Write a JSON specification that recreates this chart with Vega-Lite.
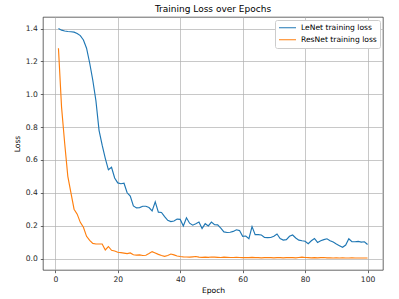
{
  "$schema": "https://vega.github.io/schema/vega-lite/v6.json",
  "width": 340,
  "height": 253,
  "autosize": {"type": "none"},
  "padding": {"left": 43, "top": 17, "right": 16, "bottom": 29},
  "background": "white",
  "config": {
    "font": "DejaVu Sans",
    "view": {"stroke": "#262626", "strokeWidth": 0.7},
    "axis": {
      "grid": true,
      "gridColor": "#b0b0b0",
      "gridWidth": 0.7,
      "domain": false,
      "ticks": true,
      "tickColor": "#262626",
      "tickSize": 2.7,
      "tickWidth": 0.7,
      "labelFont": "DejaVu Sans",
      "labelFontSize": 7.6,
      "labelColor": "#262626",
      "labelPadding": 3,
      "titleFont": "DejaVu Sans",
      "titleFontSize": 7.6,
      "titleFontWeight": "normal",
      "titleColor": "#000000"
    }
  },
  "title": {
    "text": "Training Loss over Epochs",
    "font": "DejaVu Sans",
    "fontSize": 9,
    "fontWeight": "normal",
    "color": "#000000",
    "offset": 3,
    "anchor": "middle"
  },
  "data": {
    "values": [
      {"epoch": 1, "LeNet training loss": 1.400, "ResNet training loss": 1.280},
      {"epoch": 2, "LeNet training loss": 1.390, "ResNet training loss": 0.920},
      {"epoch": 3, "LeNet training loss": 1.385, "ResNet training loss": 0.700},
      {"epoch": 4, "LeNet training loss": 1.382, "ResNet training loss": 0.500},
      {"epoch": 5, "LeNet training loss": 1.380, "ResNet training loss": 0.400},
      {"epoch": 6, "LeNet training loss": 1.378, "ResNet training loss": 0.300},
      {"epoch": 7, "LeNet training loss": 1.370, "ResNet training loss": 0.270},
      {"epoch": 8, "LeNet training loss": 1.357, "ResNet training loss": 0.220},
      {"epoch": 9, "LeNet training loss": 1.330, "ResNet training loss": 0.190},
      {"epoch": 10, "LeNet training loss": 1.280, "ResNet training loss": 0.135},
      {"epoch": 11, "LeNet training loss": 1.190, "ResNet training loss": 0.110},
      {"epoch": 12, "LeNet training loss": 1.085, "ResNet training loss": 0.092},
      {"epoch": 13, "LeNet training loss": 0.960, "ResNet training loss": 0.088},
      {"epoch": 14, "LeNet training loss": 0.780, "ResNet training loss": 0.088},
      {"epoch": 15, "LeNet training loss": 0.690, "ResNet training loss": 0.088},
      {"epoch": 16, "LeNet training loss": 0.610, "ResNet training loss": 0.052},
      {"epoch": 17, "LeNet training loss": 0.540, "ResNet training loss": 0.073},
      {"epoch": 18, "LeNet training loss": 0.555, "ResNet training loss": 0.050},
      {"epoch": 19, "LeNet training loss": 0.490, "ResNet training loss": 0.046},
      {"epoch": 20, "LeNet training loss": 0.460, "ResNet training loss": 0.038},
      {"epoch": 21, "LeNet training loss": 0.455, "ResNet training loss": 0.036},
      {"epoch": 22, "LeNet training loss": 0.458, "ResNet training loss": 0.033},
      {"epoch": 23, "LeNet training loss": 0.400, "ResNet training loss": 0.030},
      {"epoch": 24, "LeNet training loss": 0.380, "ResNet training loss": 0.034},
      {"epoch": 25, "LeNet training loss": 0.320, "ResNet training loss": 0.023},
      {"epoch": 26, "LeNet training loss": 0.308, "ResNet training loss": 0.021},
      {"epoch": 27, "LeNet training loss": 0.310, "ResNet training loss": 0.022},
      {"epoch": 28, "LeNet training loss": 0.318, "ResNet training loss": 0.018},
      {"epoch": 29, "LeNet training loss": 0.318, "ResNet training loss": 0.020},
      {"epoch": 30, "LeNet training loss": 0.310, "ResNet training loss": 0.030},
      {"epoch": 31, "LeNet training loss": 0.290, "ResNet training loss": 0.042},
      {"epoch": 32, "LeNet training loss": 0.345, "ResNet training loss": 0.034},
      {"epoch": 33, "LeNet training loss": 0.282, "ResNet training loss": 0.025},
      {"epoch": 34, "LeNet training loss": 0.280, "ResNet training loss": 0.018},
      {"epoch": 35, "LeNet training loss": 0.255, "ResNet training loss": 0.013},
      {"epoch": 36, "LeNet training loss": 0.232, "ResNet training loss": 0.018},
      {"epoch": 37, "LeNet training loss": 0.225, "ResNet training loss": 0.027},
      {"epoch": 38, "LeNet training loss": 0.228, "ResNet training loss": 0.022},
      {"epoch": 39, "LeNet training loss": 0.240, "ResNet training loss": 0.015},
      {"epoch": 40, "LeNet training loss": 0.238, "ResNet training loss": 0.012},
      {"epoch": 41, "LeNet training loss": 0.198, "ResNet training loss": 0.010},
      {"epoch": 42, "LeNet training loss": 0.248, "ResNet training loss": 0.009},
      {"epoch": 43, "LeNet training loss": 0.215, "ResNet training loss": 0.008},
      {"epoch": 44, "LeNet training loss": 0.203, "ResNet training loss": 0.010},
      {"epoch": 45, "LeNet training loss": 0.212, "ResNet training loss": 0.012},
      {"epoch": 46, "LeNet training loss": 0.222, "ResNet training loss": 0.008},
      {"epoch": 47, "LeNet training loss": 0.182, "ResNet training loss": 0.007},
      {"epoch": 48, "LeNet training loss": 0.212, "ResNet training loss": 0.008},
      {"epoch": 49, "LeNet training loss": 0.198, "ResNet training loss": 0.007},
      {"epoch": 50, "LeNet training loss": 0.222, "ResNet training loss": 0.009},
      {"epoch": 51, "LeNet training loss": 0.206, "ResNet training loss": 0.008},
      {"epoch": 52, "LeNet training loss": 0.205, "ResNet training loss": 0.007},
      {"epoch": 53, "LeNet training loss": 0.185, "ResNet training loss": 0.006},
      {"epoch": 54, "LeNet training loss": 0.162, "ResNet training loss": 0.008},
      {"epoch": 55, "LeNet training loss": 0.158, "ResNet training loss": 0.007},
      {"epoch": 56, "LeNet training loss": 0.160, "ResNet training loss": 0.006},
      {"epoch": 57, "LeNet training loss": 0.165, "ResNet training loss": 0.006},
      {"epoch": 58, "LeNet training loss": 0.175, "ResNet training loss": 0.007},
      {"epoch": 59, "LeNet training loss": 0.170, "ResNet training loss": 0.006},
      {"epoch": 60, "LeNet training loss": 0.135, "ResNet training loss": 0.005},
      {"epoch": 61, "LeNet training loss": 0.137, "ResNet training loss": 0.006},
      {"epoch": 62, "LeNet training loss": 0.121, "ResNet training loss": 0.005},
      {"epoch": 63, "LeNet training loss": 0.194, "ResNet training loss": 0.007},
      {"epoch": 64, "LeNet training loss": 0.145, "ResNet training loss": 0.005},
      {"epoch": 65, "LeNet training loss": 0.145, "ResNet training loss": 0.005},
      {"epoch": 66, "LeNet training loss": 0.143, "ResNet training loss": 0.004},
      {"epoch": 67, "LeNet training loss": 0.128, "ResNet training loss": 0.005},
      {"epoch": 68, "LeNet training loss": 0.127, "ResNet training loss": 0.006},
      {"epoch": 69, "LeNet training loss": 0.128, "ResNet training loss": 0.005},
      {"epoch": 70, "LeNet training loss": 0.135, "ResNet training loss": 0.004},
      {"epoch": 71, "LeNet training loss": 0.149, "ResNet training loss": 0.005},
      {"epoch": 72, "LeNet training loss": 0.122, "ResNet training loss": 0.005},
      {"epoch": 73, "LeNet training loss": 0.112, "ResNet training loss": 0.004},
      {"epoch": 74, "LeNet training loss": 0.115, "ResNet training loss": 0.005},
      {"epoch": 75, "LeNet training loss": 0.135, "ResNet training loss": 0.006},
      {"epoch": 76, "LeNet training loss": 0.143, "ResNet training loss": 0.005},
      {"epoch": 77, "LeNet training loss": 0.125, "ResNet training loss": 0.004},
      {"epoch": 78, "LeNet training loss": 0.112, "ResNet training loss": 0.006},
      {"epoch": 79, "LeNet training loss": 0.108, "ResNet training loss": 0.008},
      {"epoch": 80, "LeNet training loss": 0.105, "ResNet training loss": 0.006},
      {"epoch": 81, "LeNet training loss": 0.090, "ResNet training loss": 0.005},
      {"epoch": 82, "LeNet training loss": 0.108, "ResNet training loss": 0.004},
      {"epoch": 83, "LeNet training loss": 0.122, "ResNet training loss": 0.005},
      {"epoch": 84, "LeNet training loss": 0.098, "ResNet training loss": 0.004},
      {"epoch": 85, "LeNet training loss": 0.108, "ResNet training loss": 0.005},
      {"epoch": 86, "LeNet training loss": 0.115, "ResNet training loss": 0.006},
      {"epoch": 87, "LeNet training loss": 0.120, "ResNet training loss": 0.004},
      {"epoch": 88, "LeNet training loss": 0.108, "ResNet training loss": 0.004},
      {"epoch": 89, "LeNet training loss": 0.100, "ResNet training loss": 0.003},
      {"epoch": 90, "LeNet training loss": 0.088, "ResNet training loss": 0.004},
      {"epoch": 91, "LeNet training loss": 0.078, "ResNet training loss": 0.003},
      {"epoch": 92, "LeNet training loss": 0.068, "ResNet training loss": 0.004},
      {"epoch": 93, "LeNet training loss": 0.082, "ResNet training loss": 0.003},
      {"epoch": 94, "LeNet training loss": 0.120, "ResNet training loss": 0.003},
      {"epoch": 95, "LeNet training loss": 0.102, "ResNet training loss": 0.004},
      {"epoch": 96, "LeNet training loss": 0.102, "ResNet training loss": 0.003},
      {"epoch": 97, "LeNet training loss": 0.104, "ResNet training loss": 0.003},
      {"epoch": 98, "LeNet training loss": 0.100, "ResNet training loss": 0.003},
      {"epoch": 99, "LeNet training loss": 0.102, "ResNet training loss": 0.003},
      {"epoch": 100, "LeNet training loss": 0.085, "ResNet training loss": 0.003}
    ]
  },
  "transform": [
    {"fold": ["LeNet training loss", "ResNet training loss"], "as": ["model", "loss"]}
  ],
  "mark": {"type": "line", "strokeWidth": 1.15, "clip": true},
  "encoding": {
    "x": {
      "field": "epoch",
      "type": "quantitative",
      "scale": {"domain": [-3.95, 104.95], "nice": false, "zero": false},
      "axis": {"values": [0, 20, 40, 60, 80, 100], "title": "Epoch", "titlePadding": 3}
    },
    "y": {
      "field": "loss",
      "type": "quantitative",
      "scale": {"domain": [-0.07, 1.47], "nice": false, "zero": false},
      "axis": {"values": [0, 0.2, 0.4, 0.6, 0.8, 1.0, 1.2, 1.4], "format": ".1f", "title": "Loss", "titlePadding": 4}
    },
    "color": {
      "field": "model",
      "type": "nominal",
      "scale": {"domain": ["LeNet training loss", "ResNet training loss"], "range": ["#1f77b4", "#ff7f0e"]},
      "legend": {
        "title": null,
        "orient": "top-right",
        "offset": 3,
        "symbolType": "stroke",
        "symbolSize": 289,
        "symbolStrokeWidth": 1.15,
        "labelFontSize": 7.6,
        "labelFont": "DejaVu Sans",
        "labelColor": "#000000",
        "labelOffset": 4,
        "clipHeight": 9.5,
        "fillColor": "white",
        "strokeColor": "#cccccc",
        "cornerRadius": 2,
        "padding": 3,
        "rowPadding": 2
      }
    }
  }
}
